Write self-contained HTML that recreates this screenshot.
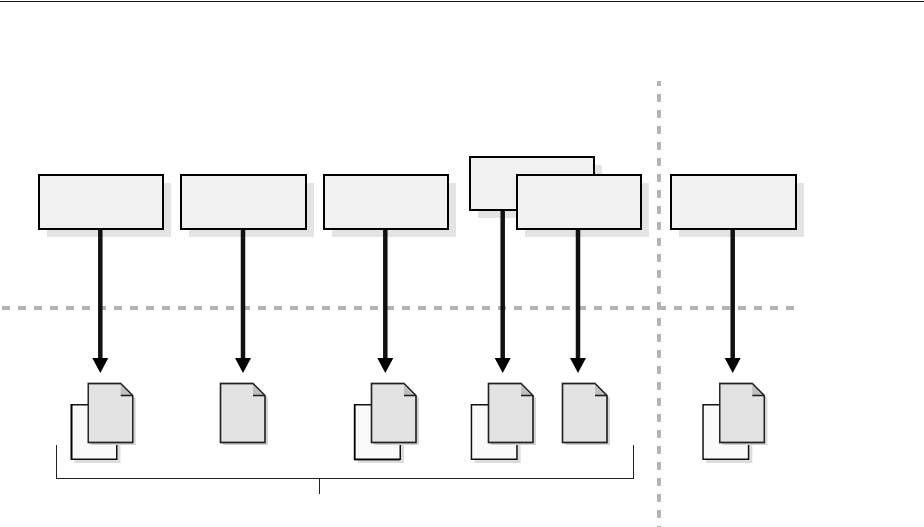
<!DOCTYPE html>
<html>
<head>
<meta charset="utf-8">
<style>
html,body{margin:0;padding:0;background:#fff;width:924px;height:527px;overflow:hidden}
svg{display:block}
</style>
</head>
<body>
<svg width="924" height="527" viewBox="0 0 924 527" xmlns="http://www.w3.org/2000/svg">
<defs>
<g id="doc">
<path d="M3 3H36L48 15V62H3Z" fill="#d4d4d4"/>
<path d="M.5 .5H33L45 12.5V59.5H.5Z" fill="#e3e3e3" stroke="#222" stroke-width="1.4"/>
<path d="M33 .5V12.5H45Z" fill="#c0c0c0"/>
<path d="M.5 .5H33L45 12.5V59.5H.5Z" fill="none" stroke="#222" stroke-width="1.4"/>
<path d="M33 12.5H45" stroke="#222" stroke-width="1.6"/>
</g>
<g id="back">
<rect x="4" y="4" width="46" height="55" fill="#dcdcdc"/>
<rect x=".75" y=".75" width="45.5" height="54.5" fill="#fafafa" stroke="#111" stroke-width="1.5"/>
</g>
</defs>

<rect x="0" y="1" width="924" height="1" fill="#111"/>

<path d="M2 308H795" stroke="#b4b4b4" stroke-width="4" stroke-dasharray="8 8" fill="none"/>
<path d="M659 81V86" stroke="#b4b4b4" stroke-width="4" fill="none"/>
<path d="M659 94V527" stroke="#b4b4b4" stroke-width="4" stroke-dasharray="8 8" fill="none"/>

<g fill="#e4e4e4">
<rect x="47" y="183" width="124" height="54"/>
<rect x="189" y="183" width="125" height="54"/>
<rect x="332" y="183" width="124" height="54"/>
<rect x="478" y="165" width="124" height="53"/>
<rect x="525" y="183" width="124" height="54"/>
<rect x="679" y="183" width="125" height="54"/>
</g>
<g fill="#f1f1f1" stroke="#000" stroke-width="2">
<rect x="39" y="175" width="124" height="54"/>
<rect x="181" y="175" width="125" height="54"/>
<rect x="324" y="175" width="124" height="54"/>
<rect x="470" y="157" width="124" height="53"/>
</g>
<g stroke="#111" stroke-width="4.500" fill="none">
<path d="M100.300 230V360"/>
<path d="M243 230V360"/>
<path d="M385.300 230V360"/>
<path d="M502.700 211V360"/>
</g>
<rect x="517" y="175" width="124" height="54" fill="#f1f1f1" stroke="#000" stroke-width="2"/>
<rect x="671" y="175" width="125" height="54" fill="#f1f1f1" stroke="#000" stroke-width="2"/>
<g stroke="#111" stroke-width="4.500" fill="none">
<path d="M578 230V360"/>
<path d="M732.700 230V360"/>
</g>
<g fill="#000">
<path d="M92.300 358H108.300L100.300 373Z"/>
<path d="M235 358H251L243 373Z"/>
<path d="M377.300 358H393.300L385.300 373Z"/>
<path d="M494.700 358H510.700L502.700 373Z"/>
<path d="M570 358H586L578 373Z"/>
<path d="M724.700 358H740.700L732.700 373Z"/>
</g>

<use href="#back" x="70.500" y="404"/>
<path d="M71.500 404V459" stroke="#000" stroke-width="2"/>
<use href="#doc" x="87.700" y="383"/>
<use href="#doc" x="220" y="383"/>
<use href="#back" x="354" y="404"/>
<path d="M354.700 404V459.500H400" stroke="#000" stroke-width="1.800" fill="none"/>
<use href="#doc" x="371" y="383"/>
<use href="#back" x="470.700" y="404"/>
<use href="#doc" x="488" y="383"/>
<use href="#doc" x="562" y="383"/>
<use href="#back" x="702.300" y="404"/>
<use href="#doc" x="719.300" y="383"/>

<path d="M56.500 445V478.500H633.500V445M319.500 478.500V494" fill="none" stroke="#222" stroke-width="1"/>
</svg>
</body>
</html>
